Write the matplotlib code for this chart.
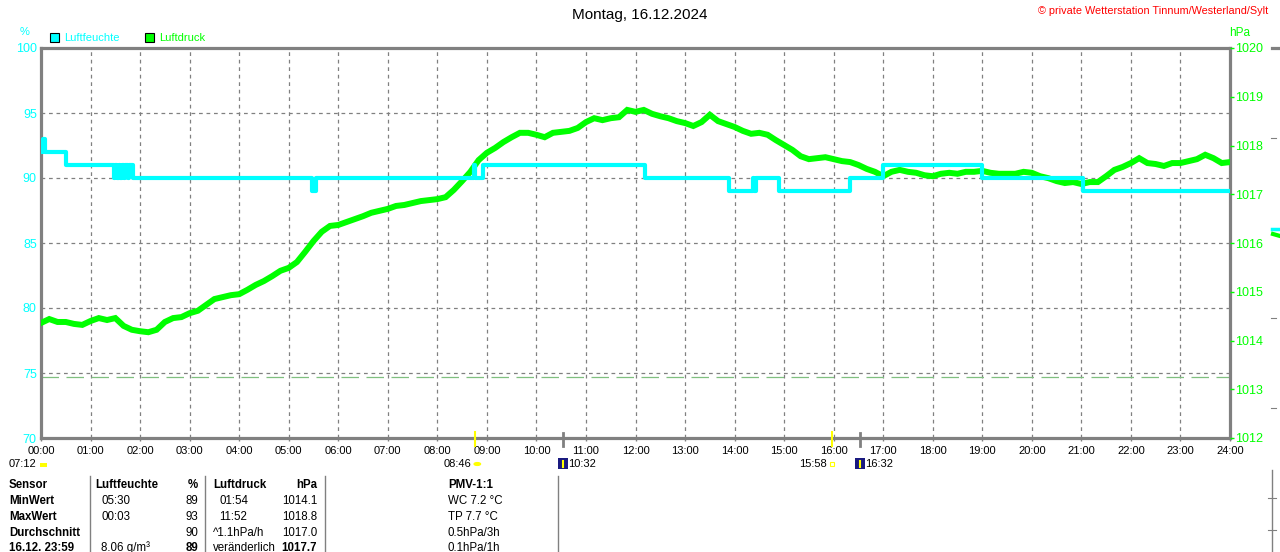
import matplotlib
matplotlib.use("Agg")
import matplotlib.pyplot as plt
from matplotlib.patches import Rectangle, Circle
from matplotlib.lines import Line2D
import numpy as np

plt.rcParams['font.family'] = ['Liberation Sans', 'DejaVu Sans']

# Texte
titel = "Montag, 16.12.2024"
copyright_text = "\u00a9 private Wetterstation Tinnum/Westerland/Sylt"
stunden_labels = ["%02d:00" % h for h in range(25)]

druck = [
    1014.36, 1014.44, 1014.38, 1014.38, 1014.34, 1014.32,   # 00
    1014.40, 1014.46, 1014.42, 1014.46, 1014.30, 1014.22,   # 01
    1014.19, 1014.17, 1014.22, 1014.38, 1014.46, 1014.48,   # 02
    1014.56, 1014.61, 1014.73, 1014.85, 1014.89, 1014.93,   # 03
    1014.95, 1015.04, 1015.14, 1015.22, 1015.32, 1015.43,   # 04
    1015.49, 1015.61, 1015.82, 1016.04, 1016.23, 1016.35,   # 05
    1016.37, 1016.43, 1016.49, 1016.55, 1016.62, 1016.66,   # 06
    1016.70, 1016.76, 1016.78, 1016.82, 1016.86, 1016.88,   # 07
    1016.90, 1016.94, 1017.09, 1017.27, 1017.46, 1017.70,   # 08
    1017.85, 1017.95, 1018.07, 1018.17, 1018.26, 1018.26,   # 09
    1018.22, 1018.17, 1018.26, 1018.28, 1018.30, 1018.36,   # 10
    1018.48, 1018.56, 1018.52, 1018.56, 1018.58, 1018.73,   # 11
    1018.69, 1018.73, 1018.65, 1018.60, 1018.56, 1018.50,   # 12
    1018.46, 1018.40, 1018.48, 1018.63, 1018.50, 1018.44,   # 13
    1018.38, 1018.30, 1018.24, 1018.26, 1018.22, 1018.11,   # 14
    1018.01, 1017.91, 1017.78, 1017.72, 1017.74, 1017.76,   # 15
    1017.72, 1017.68, 1017.66, 1017.60, 1017.52, 1017.46,   # 16
    1017.37, 1017.46, 1017.50, 1017.46, 1017.44, 1017.39,   # 17
    1017.37, 1017.42, 1017.44, 1017.42, 1017.46, 1017.46,   # 18
    1017.48, 1017.44, 1017.42, 1017.42, 1017.42, 1017.46,   # 19
    1017.44, 1017.37, 1017.33, 1017.27, 1017.23, 1017.25,   # 20
    1017.21, 1017.25, 1017.25, 1017.37, 1017.50, 1017.56,   # 21
    1017.64, 1017.74, 1017.64, 1017.62, 1017.58, 1017.64,   # 22
    1017.64, 1017.68, 1017.72, 1017.81, 1017.74, 1017.64,   # 23
    1017.66,                                                # 24
]
druck_zeit = np.arange(len(druck)) / 6.0

# Luftfeuchte (%), Stufenwerte ab Zeitpunkt
feuchte_zeit = ["00:00", "00:02", "00:05", "00:30",
                "01:28", "01:30", "01:32", "01:34", "01:36", "01:38", "01:40",
                "01:42", "01:45", "01:47", "01:52", "01:54",
                "05:28", "05:33", "08:44", "08:46", "08:55",
                "12:12", "13:53", "14:22", "14:24", "14:26", "14:54",
                "16:20", "17:00", "19:00", "21:02", "24:00"]
feuchte_wert = [92, 93, 92, 91,
                90, 91, 90, 91, 90, 91, 90,
                91, 90, 91, 90, 90,
                89, 90, 91, 90, 91,
                90, 89, 90, 89, 90, 89,
                90, 91, 90, 89, 89]

# Sonnen-/Mondzeiten
ereignis_zeit = ["08:46", "10:32", "15:58", "16:32"]
ereignis_typ = ["sonne_auf", "mond", "sonne_unter", "mond"]
daemmerung = "07:12"
normaldruck = 1013.25

# Tabelle unten
tabelle = [
    ["Sensor", "Luftfeuchte", "%", "Luftdruck", "hPa", "PMV-1:1"],
    ["MinWert", "05:30", "89", "01:54", "1014.1", "WC 7.2 \u00b0C"],
    ["MaxWert", "00:03", "93", "11:52", "1018.8", "TP 7.7 \u00b0C"],
    ["Durchschnitt", "", "90", "^1.1hPa/h", "1017.0", "0.5hPa/3h"],
    ["16.12. 23:59", "8.06 g/m\u00b3", "89", "ver\u00e4nderlich", "1017.7", "0.1hPa/1h"],
]

CYAN = "#00FFFF"
GRUEN = "#00FF00"
GRAU = "#808080"


def stunden(s):
    h, m = s.split(":")
    return int(h) + int(m) / 60.0


def fx(px):
    return px / 1280.0


def fy(py):
    return 1.0 - py / 552.0


fig = plt.figure(figsize=(12.8, 5.52), dpi=100)
fig.patch.set_facecolor("white")
ax = fig.add_axes([fx(41), fy(438), fx(1230) - fx(41), fy(48) - fy(438)])
ax2 = ax.twinx()

ax.set_xlim(0, 24)
ax.set_ylim(70, 100)
ax2.set_ylim(1012, 1020)

# Gitter
ax.set_xticks(range(25))
ax.set_xticklabels(stunden_labels)
ax.set_yticks([70, 75, 80, 85, 90, 95, 100])
ax.grid(True, color=GRAU, linestyle=(0, (3, 3)), linewidth=0.9)
ax.set_axisbelow(True)

# Normaldruck-Linie
ax.plot([0, 24], [normaldruck, normaldruck], color="#7FBF7F", linewidth=0.9,
        linestyle=(0, (14, 6)), transform=ax2.transData)

# Luftdruck
ax.plot(druck_zeit, druck, color=GRUEN, linewidth=4.3, solid_joinstyle="miter",
        transform=ax2.transData, zorder=3)

# Luftfeuchte
ft = [stunden(s) for s in feuchte_zeit]
ax.step(ft, feuchte_wert, where="post", color=CYAN, linewidth=3.0, zorder=4)

for sp in ax.spines.values():
    sp.set_color(GRAU)
    sp.set_linewidth(2.3)
for sp in ax2.spines.values():
    sp.set_visible(False)

ax.tick_params(axis="x", colors=GRAU, length=2.5, width=1, pad=3, labelsize=8,
               labelcolor="black")
ax.tick_params(axis="y", length=0, pad=3, labelsize=9, labelcolor=CYAN)
ax2.set_yticks(range(1012, 1021))
ax2.tick_params(axis="y", colors=GRUEN, length=3, width=1, pad=1, labelsize=9)

# Sonne / Mond Markierungen
for zeit, typ in zip(ereignis_zeit, ereignis_typ):
    t = stunden(zeit)
    if typ == "mond":
        ax.plot([t, t], [-0.02, 0.012], color=GRAU, linewidth=2,
                transform=ax.get_xaxis_transform(), clip_on=False, zorder=5)
    else:
        ax.plot([t, t], [-0.02, 0.016], color="#FFFF00", linewidth=1.5,
                transform=ax.get_xaxis_transform(), clip_on=False, zorder=5)

fs_small = 8
y_ev = fy(464)
# Dämmerung links
fig.text(fx(9), y_ev, daemmerung, fontsize=fs_small, va="center", ha="left")
fig.add_artist(Rectangle((fx(40), fy(467)), fx(7), 4 / 552, color="#FFFF00", lw=0))
for zeit, typ in zip(ereignis_zeit, ereignis_typ):
    t = stunden(zeit)
    px = 41 + t / 24 * 1189
    if typ == "sonne_auf":
        fig.text(fx(px - 4), y_ev, zeit, fontsize=fs_small, va="center", ha="right")
        fig.add_artist(Circle((fx(px + 2), y_ev), 3.2 / 1280, color="#FFFF00",
                              transform=fig.transFigure))
    elif typ == "sonne_unter":
        fig.text(fx(px - 5), y_ev, zeit, fontsize=fs_small, va="center", ha="right")
        fig.add_artist(Rectangle((fx(px - 2), fy(466)), fx(4), 4 / 552, fill=False,
                                 edgecolor="#FFFF00", lw=0.8))
    else:
        fig.add_artist(Rectangle((fx(px - 5), fy(469)), fx(10), 11 / 552,
                                 color="#1A1A80", lw=0))
        fig.add_artist(Line2D([fx(px), fx(px)], [fy(467), fy(461)], color="#FFFF00", lw=1.5))
        fig.text(fx(px + 5), y_ev, zeit, fontsize=fs_small, va="center", ha="left")

# Titel, Einheiten, Legende
fig.text(0.5, fy(15), titel, fontsize=11, ha="center", va="center")
fig.text(fx(1268), fy(11), copyright_text, fontsize=7.8, color="red",
         ha="right", va="center")
fig.text(fx(25), fy(32), "%", fontsize=8, color=CYAN, ha="center", va="center")
fig.text(fx(1240), fy(33), "hPa", fontsize=8.5, color=GRUEN, ha="center", va="center")
for px, name, col in [(50, "Luftfeuchte", CYAN), (145, "Luftdruck", GRUEN)]:
    fig.add_artist(Rectangle((fx(px), fy(42)), fx(9), 9 / 552, facecolor=col,
                             edgecolor="black", lw=0.8))
    fig.text(fx(px + 14), fy(38), name, fontsize=8, color=col, ha="left", va="center")

# Tabelle
for px in [90, 205, 325, 558]:
    fig.add_artist(Line2D([fx(px), fx(px)], [fy(476), 0], color=GRAU, lw=1))
zeilen_y = [485, 501, 517, 533, 548]
for i, zeile in enumerate(tabelle):
    y = fy(zeilen_y[i])
    kopf = i == 0
    fig.text(fx(9), y, zeile[0], fontsize=8.3, weight="bold", va="center", ha="left")
    fig.text(fx(95 if kopf else 101), y, zeile[1], fontsize=8.3,
             weight="bold" if kopf else "normal", va="center", ha="left")
    fig.text(fx(198), y, zeile[2], fontsize=8.3,
             weight="bold" if (kopf or i == 4) else "normal", va="center", ha="right")
    fig.text(fx(213 if (kopf or i >= 3) else 219), y, zeile[3], fontsize=8.3,
             weight="bold" if kopf else "normal", va="center", ha="left")
    fig.text(fx(317), y, zeile[4], fontsize=8.3,
             weight="bold" if (kopf or i == 4) else "normal", va="center", ha="right")
    fig.text(fx(448), y, zeile[5], fontsize=8.3,
             weight="bold" if kopf else "normal", va="center", ha="left")

# Rest des Nachbardiagramms am rechten Rand
fig.add_artist(Line2D([fx(1272), 1], [fy(48), fy(48)], color=GRAU, lw=2.3))
for py in [138, 318, 408]:
    fig.add_artist(Line2D([fx(1271), fx(1276)], [fy(py), fy(py)], color=GRAU, lw=0.8))
fig.add_artist(Line2D([fx(1272), 1], [fy(229), fy(229)], color=CYAN, lw=2.5))
fig.add_artist(Line2D([fx(1273), 1], [fy(234), fy(236)], color=GRUEN, lw=3))
fig.add_artist(Line2D([fx(1272), fx(1272)], [fy(470), 0], color=GRAU, lw=1))
fig.add_artist(Line2D([fx(1268), fx(1276)], [fy(498), fy(498)], color=GRAU, lw=0.8))
fig.add_artist(Line2D([fx(1268), fx(1276)], [fy(530), fy(530)], color=GRAU, lw=0.8))

fig.savefig("out.png", dpi=100, facecolor="white")
